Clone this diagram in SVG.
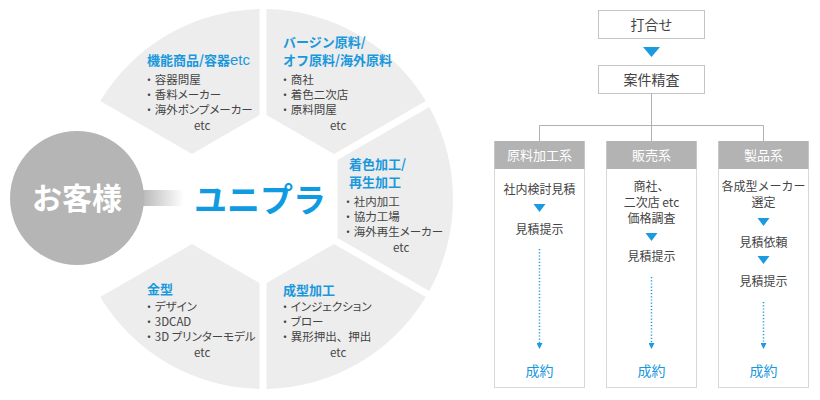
<svg xmlns="http://www.w3.org/2000/svg" xmlns:xlink="http://www.w3.org/1999/xlink" width="820" height="400" viewBox="0 0 820 400">
<style>
text{font-family:"Noto Sans CJK JP","Noto Sans",sans-serif;}
.seg{fill:#ededed;}
.ttl{fill:#1a98dc;font-size:13px;font-weight:bold;}
.bd{fill:#444;font-size:11.5px;font-feature-settings:"palt";}
.fw{font-feature-settings:normal;}
.box{fill:#fff;stroke:#c4c4c4;stroke-width:1;}
.col{fill:#fff;stroke:#d8d8d8;stroke-width:1;}
.hdr{fill:#b3b3b3;}
.ht{fill:#fff;font-size:13px;text-anchor:middle;}
.bt{fill:#444;font-size:14px;text-anchor:middle;}
.ct{fill:#444;font-size:12px;text-anchor:middle;}
.ok{fill:#1a98dc;font-size:14px;text-anchor:middle;}
.tri{fill:#1a9be0;}
.ln{stroke:#b0b0b0;stroke-width:1;fill:none;}
.dot{stroke:#1a9be0;stroke-width:1.5;stroke-dasharray:1.2 2;fill:none;}
</style>
<defs>
<path id="segp" d="M74.5 -38.97 L166.27 -91.95 A190 190 0 0 1 166.27 91.95 L74.5 38.97 Z"/>
<linearGradient id="bar" x1="0" y1="0" x2="1" y2="0">
<stop offset="0" stop-color="#b5b5b5"/>
<stop offset="1" stop-color="#ffffff"/>
</linearGradient>
<marker id="ah" markerWidth="6" markerHeight="6" refX="3" refY="3" orient="auto" markerUnits="userSpaceOnUse">
<path d="M0 0 L6 3 L0 6 Z" fill="#1a9be0"/>
</marker>
</defs>

<g id="seg-topleft">
<use xlink:href="#segp" class="seg" transform="translate(263 199) rotate(-120)"/>
<text class="ttl" x="147" y="65">機能商品/容器<tspan font-family="Liberation Sans, sans-serif" font-size="15" font-weight="normal">etc</tspan></text>
<text class="bd" x="146" y="84">・<tspan dx="3">容器問屋</tspan></text>
<text class="bd" x="146" y="99">・<tspan dx="3">香料メーカー</tspan></text>
<text class="bd" x="146" y="114">・<tspan dx="3">海外ポンプメーカー</tspan></text>
<text class="bd" x="194" y="130">etc</text>
</g>

<g id="seg-topright">
<use xlink:href="#segp" class="seg" transform="translate(263 199) rotate(-60)"/>
<text class="ttl" x="283" y="47">バージン原料/</text>
<text class="ttl" x="283" y="65">オフ原料/海外原料</text>
<text class="bd" x="282" y="84">・<tspan dx="3">商社</tspan></text>
<text class="bd" x="282" y="99">・<tspan dx="3">着色二次店</tspan></text>
<text class="bd" x="282" y="114">・<tspan dx="3">原料問屋</tspan></text>
<text class="bd" x="330" y="130">etc</text>
</g>

<g id="seg-right">
<use xlink:href="#segp" class="seg" transform="translate(263 199)"/>
<text class="ttl" x="349" y="169">着色加工/</text>
<text class="ttl" x="349" y="187">再生加工</text>
<text class="bd" x="345" y="206">・<tspan dx="3">社内加工</tspan></text>
<text class="bd" x="345" y="221">・<tspan dx="3">協力工場</tspan></text>
<text class="bd" x="345" y="236">・<tspan dx="3">海外再生メーカー</tspan></text>
<text class="bd" x="393" y="252">etc</text>
</g>

<g id="seg-bottomright">
<use xlink:href="#segp" class="seg" transform="translate(263 199) rotate(60)"/>
<text class="ttl" x="283" y="295">成型加工</text>
<text class="bd" x="282" y="311">・<tspan dx="3">インジェクション</tspan></text>
<text class="bd" x="282" y="326">・<tspan dx="3">ブロー</tspan></text>
<text class="bd" x="282" y="341">・<tspan dx="3">異形押出<tspan class="fw">、</tspan>押出</tspan></text>
<text class="bd" x="330" y="357">etc</text>
</g>

<g id="seg-bottomleft">
<use xlink:href="#segp" class="seg" transform="translate(263 199) rotate(120)"/>
<text class="ttl" x="147" y="294">金型</text>
<text class="bd" x="146" y="311">・<tspan dx="3">デザイン</tspan></text>
<text class="bd" x="146" y="326">・<tspan dx="3">3DCAD</tspan></text>
<text class="bd" x="146" y="341">・<tspan dx="3">3D プリンターモデル</tspan></text>
<text class="bd" x="194" y="357">etc</text>
</g>

<g id="customer">
<rect x="140" y="190" width="44" height="16" fill="url(#bar)"/>
<circle cx="77" cy="198" r="67" fill="#b5b5b5"/>
<text x="77" y="209" fill="#fff" font-size="30" font-weight="bold" text-anchor="middle">お客様</text>
</g>

<g id="unipla">
<text x="194" y="212" fill="#0e9be2" font-size="33" font-weight="bold">ユニプラ</text>
</g>

<g id="meeting">
<rect class="box" x="598.5" y="10.5" width="106" height="28"/>
<text class="bt" x="651.5" y="30">打合せ</text>
</g>

<g id="review">
<rect class="box" x="598.5" y="65.5" width="106" height="28"/>
<text class="bt" x="651.5" y="85">案件精査</text>
</g>

<g id="col-material">
<rect class="col" x="494.5" y="141.5" width="90" height="246"/>
<rect class="hdr" x="494.5" y="141" width="90" height="28"/>
<text class="ht" x="539.5" y="160">原料加工系</text>
<text class="ct" x="539.5" y="194">社内検討見積</text>
<text class="ct" x="539.5" y="234">見積提示</text>
<text class="ok" x="539.5" y="376">成約</text>
</g>

<g id="col-sales">
<rect class="col" x="606.5" y="141.5" width="90" height="246"/>
<rect class="hdr" x="606.5" y="141" width="90" height="28"/>
<text class="ht" x="651.5" y="160">販売系</text>
<text class="ct" x="651.5" y="191" font-size="11.5">商社、</text>
<text class="ct" x="651.5" y="207" font-size="11.5">二次店 etc</text>
<text class="ct" x="651.5" y="223" font-size="11.5">価格調査</text>
<text class="ct" x="651.5" y="261">見積提示</text>
<text class="ok" x="651.5" y="376">成約</text>
</g>

<g id="col-product">
<rect class="col" x="718.5" y="141.5" width="90" height="246"/>
<rect class="hdr" x="718.5" y="141" width="90" height="28"/>
<text class="ht" x="763.5" y="160">製品系</text>
<text class="ct" x="763.5" y="191" font-size="11.5">各成型メーカー</text>
<text class="ct" x="763.5" y="207" font-size="11.5">選定</text>
<text class="ct" x="763.5" y="247">見積依頼</text>
<text class="ct" x="763.5" y="286">見積提示</text>
<text class="ok" x="763.5" y="376">成約</text>
</g>

<g id="connectors">
<polygon class="tri" points="643,47 660,47 651.5,57"/>
<path class="ln" d="M651.5 93.5 V141 M539.5 141 V125.5 H763.5 V141"/>
<polygon class="tri" points="533.5,204 545.5,204 539.5,212"/>
<path class="dot" d="M539.5 249 V346" marker-end="url(#ah)"/>
<polygon class="tri" points="645.5,233 657.5,233 651.5,241"/>
<path class="dot" d="M651.5 277 V346" marker-end="url(#ah)"/>
<polygon class="tri" points="757.5,218 769.5,218 763.5,226"/>
<polygon class="tri" points="757.5,256 769.5,256 763.5,264"/>
<path class="dot" d="M763.5 302 V346" marker-end="url(#ah)"/>
</g>
</svg>
